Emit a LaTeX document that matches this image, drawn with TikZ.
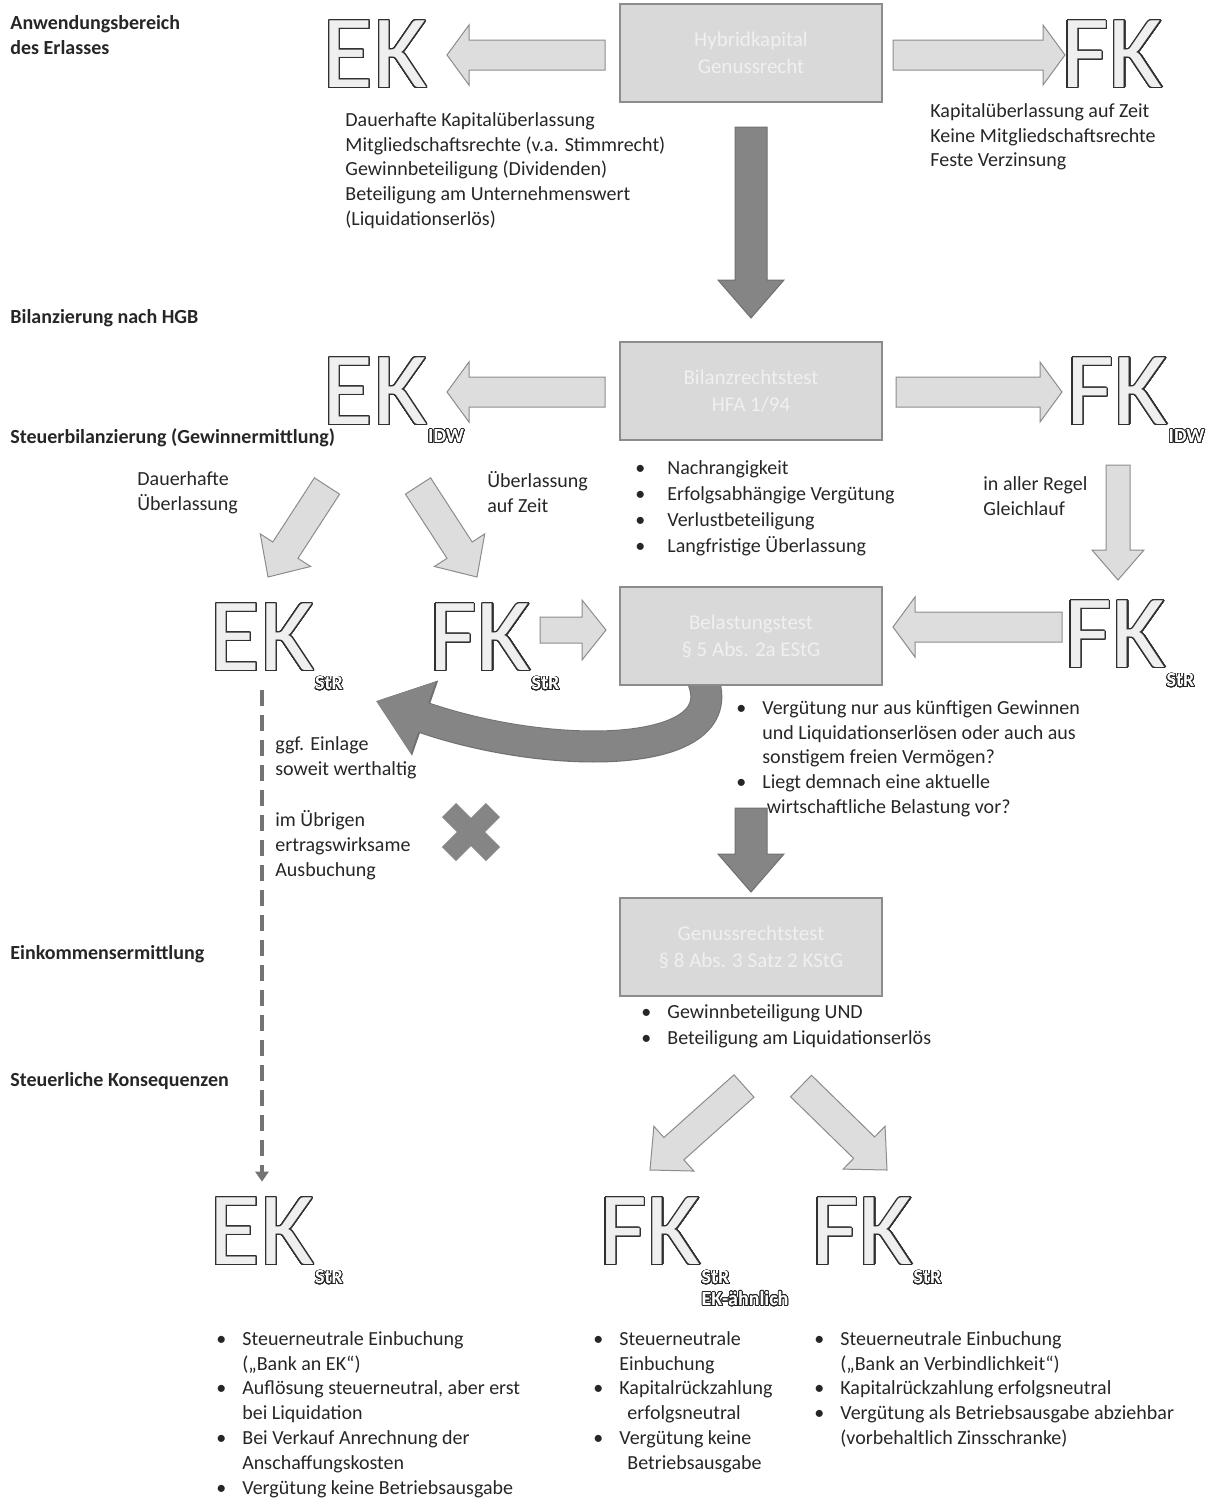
\documentclass[tikz,border=0pt]{standalone}
\usepackage{fontspec}
\setmainfont{Carlito}
\usepackage[copies]{contour}
\usetikzlibrary{calc,positioning,arrows.meta}

\definecolor{inkgray}{HTML}{262626}
\definecolor{boxfill}{HTML}{D9D9D9}
\definecolor{boxedge}{HTML}{8C8C8C}
\definecolor{lightfill}{HTML}{DDDDDD}
\definecolor{darkfill}{HTML}{858585}
\definecolor{darkedge}{HTML}{707070}
\definecolor{letterfill}{HTML}{EFEFEF}
\definecolor{letteredge}{HTML}{303030}

\contournumber{40}
\newcommand{\kap}[1]{{\contourlength{0.6pt}\color{letterfill}\contour{letteredge}{#1}}}
\newcommand{\kapsub}[1]{{\contourlength{0.4pt}\color{white}\contour{black!85}{#1}}}
\newcommand{\bul}[1][13pt]{\makebox[#1][l]{\textbullet}}
\newcommand{\cont}[1][13pt]{\hspace*{#1}}

\tikzset{
  shaftw/.store in=\shaftw, headw/.store in=\headw, headl/.store in=\headl,
  lightarrow/.style={draw=boxedge, fill=lightfill, line width=0.5pt, line join=miter,
    shaftw=7.5pt, headw=15pt, headl=11pt},
  darkarrow/.style={draw=darkedge, fill=darkfill, line width=0.5pt,
    shaftw=8pt, headw=16.5pt, headl=19pt},
}
% block arrow from #2 to #3
\newcommand{\blockarrow}[3][]{%
  \filldraw[lightarrow,#1]
    ($(#2)!\shaftw!90:(#3)$) --
    ($(#3)!\headl!(#2)!\shaftw!90:(#3)$) --
    ($(#3)!\headl!(#2)!\headw!90:(#3)$) --
    (#3) --
    ($(#3)!\headl!(#2)!\headw!-90:(#3)$) --
    ($(#3)!\headl!(#2)!\shaftw!-90:(#3)$) --
    ($(#2)!\shaftw!-90:(#3)$) -- cycle;}

\begin{document}
\begin{tikzpicture}[x=0.5pt, y=-0.5pt,
  kbox/.style={draw=boxedge, fill=boxfill, line width=0.6pt, minimum width=131pt,
    minimum height=49pt, inner sep=0pt, align=center, text=white!94!black,
    font=\fontsize{10.5}{13.5}\selectfont},
  letters/.style={inner sep=0pt, font=\fontsize{52}{56}\selectfont},
  subscr/.style={inner sep=0pt, font=\fontsize{10}{12}\selectfont\bfseries},
  firstline/.style={anchor=north west, yshift=9pt, inner sep=0pt, align=left,
    execute at begin node={\rule{0pt}{9pt}}},
  heading/.style={firstline, text=inkgray, font=\fontsize{10}{12.5}\selectfont\bfseries},
  note/.style={firstline, text=inkgray, font=\fontsize{10}{12.4}\selectfont},
  diag/.style={shaftw=7.5pt, headw=15pt, headl=16pt},
  darkcurve/.style={draw=darkfill, line width=15pt, -{Triangle[length=25pt,width=36pt]},
    preaction={draw=darkedge, line width=16pt, -{Triangle[length=26pt,width=38pt]}}},
  dashline/.style={draw=black!55, line width=2pt, dash pattern=on 8pt off 4.5pt,
    -{Triangle[length=5pt,width=6.5pt]}},
  xmark/.style={draw=darkfill, line width=10pt},
]
\useasboundingbox (0,0) rectangle (1213,1506);

% curved arrow back to EK (drawn first, the box covers its start)
\coordinate (loopin) at (692,660);
\coordinate (loopout) at (376,701);
\draw[darkcurve] (loopin) .. controls (762,760) and (560,765) .. (loopout);

% headings
\node[heading] (h1) at (10,33) {Anwendungsbereich\\des Erlasses};
\node[heading] (h2) at (10,323) {Bilanzierung nach HGB};
\node[heading] (h3) at (10,443) {Steuerbilanzierung (Gewinnermittlung)};
\node[heading] (h4) at (10,959) {Einkommensermittlung};
\node[heading] (h5) at (10,1086) {Steuerliche Konsequenzen};

% tests
\node[kbox] (hybrid) at (751,53) {Hybridkapital\\Genussrecht};
\node[kbox] (bilanz) at (751,391) {Bilanzrechtstest\\HFA 1/94};
\node[kbox] (belast) at (751,636) {Belastungstest\\§ 5 Abs. 2a EStG};
\node[kbox] (genuss) at (751,947) {Genussrechtstest\\§ 8 Abs. 3 Satz 2 KStG};

% EK / FK
\node[letters] (ek1) at (375,55) {\kap{EK}};
\node[letters] (fk1) at (1112,55) {\kap{FK}};
\node[letters] (ek2) at (375,392) {\kap{EK}};
\node[letters] (fk2) at (1117,392) {\kap{FK}};
\node[letters] (ek3) at (262,638) {\kap{EK}};
\node[letters] (fk3) at (480,638) {\kap{FK}};
\node[letters] (fk4) at (1115,635) {\kap{FK}};
\node[letters] (ek5) at (262,1232) {\kap{EK}};
\node[letters] (fk5) at (650,1232) {\kap{FK}};
\node[letters] (fk6) at (862,1232) {\kap{FK}};

\node[subscr, below right=1.5pt and 0pt of ek2.south east] (ek2sub) {\kapsub{IDW}};
\node[subscr, below right=1.5pt and 0pt of fk2.south east] (fk2sub) {\kapsub{IDW}};
\node[subscr, below right=2pt and 0pt of ek3.south east] (ek3sub) {\kapsub{StR}};
\node[subscr, below right=2pt and 0pt of fk3.south east] (fk3sub) {\kapsub{StR}};
\node[subscr, below right=2pt and 0pt of fk4.south east] (fk4sub) {\kapsub{StR}};
\node[subscr, below right=2pt and 0pt of ek5.south east] (ek5sub) {\kapsub{StR}};
\node[subscr, below right=2pt and 0pt of fk5.south east] (fk5sub) {\kapsub{StR}};
\node[subscr, below right=3pt and 0pt of fk5sub.south west] (fk5ek) {\kapsub{EK-ähnlich}};
\node[subscr, below right=2pt and 0pt of fk6.south east] (fk6sub) {\kapsub{StR}};

% texts
\node[note] (ektext) at (345,130) {Dauerhafte Kapitalüberlassung\\Mitgliedschaftsrechte (v.a. Stimmrecht)\\Gewinnbeteiligung (Dividenden)\\Beteiligung am Unternehmenswert\\(Liquidationserlös)};
\node[note] (fktext) at (930,121) {Kapitalüberlassung auf Zeit\\Keine Mitgliedschaftsrechte\\Feste Verzinsung};
\node[note, font=\fontsize{10}{13}\selectfont] (bilanzlist) at (635,478) {\bul[16pt]Nachrangigkeit\\\bul[16pt]Erfolgsabhängige Vergütung\\\bul[16pt]Verlustbeteiligung\\\bul[16pt]Langfristige Überlassung};
\node[note] (regel) at (983,494) {in aller Regel\\Gleichlauf};
\node[note] (dauer) at (137,489) {Dauerhafte\\Überlassung};
\node[note] (zeit) at (487,489) {Überlassung\\auf Zeit};
\node[note] (belastlist) at (736,718) {\bul Vergütung nur aus künftigen Gewinnen\\\cont und Liquidationserlösen oder auch aus\\\cont sonstigem freien Vermögen?\\\bul Liegt demnach eine aktuelle\\\cont[13pt] wirtschaftliche Belastung vor?};
\node[note] (einlage) at (275,754) {ggf. Einlage\\soweit werthaltig};
\node[note] (ausbuch) at (275,828) {im Übrigen\\ertragswirksame\\Ausbuchung};
\node[note, font=\fontsize{10}{13}\selectfont] (genusslist) at (641,1022) {\bul Gewinnbeteiligung UND\\\bul Beteiligung am Liquidationserlös};
\node[note] (eklist) at (216,1349) {\bul Steuerneutrale Einbuchung\\\cont(„Bank an EK“)\\\bul Auflösung steuerneutral, aber erst\\\cont bei Liquidation\\\bul Bei Verkauf Anrechnung der\\\cont Anschaffungskosten\\\bul Vergütung keine Betriebsausgabe};
\node[note] (fkeklist) at (593,1349) {\bul Steuerneutrale\\\cont Einbuchung\\\bul Kapitalrückzahlung\\\cont[17pt]erfolgsneutral\\\bul Vergütung keine\\\cont[17pt]Betriebsausgabe};
\node[note] (fklist) at (814,1349) {\bul Steuerneutrale Einbuchung\\\cont(„Bank an Verbindlichkeit“)\\\bul Kapitalrückzahlung erfolgsneutral\\\bul Vergütung als Betriebsausgabe abziehbar\\\cont(vorbehaltlich Zinsschranke)};

% arrow ends
\coordinate (a1s) at (605,55);   \coordinate (a1e) at (447,55);
\coordinate (a2s) at (893,55);   \coordinate (a2e) at (1065,55);
\coordinate (a3s) at (605,392);  \coordinate (a3e) at (447,392);
\coordinate (a4s) at (896,392);  \coordinate (a4e) at (1062,392);
\coordinate (a5s) at (1118,465); \coordinate (a5e) at (1118,580);
\coordinate (a6s) at (327,486);  \coordinate (a6e) at (268,577);
\coordinate (a7s) at (418,486);  \coordinate (a7e) at (477,577);
\coordinate (a8s) at (540,630);  \coordinate (a8e) at (606,630);
\coordinate (a9s) at (1062,627); \coordinate (a9e) at (893,627);
\coordinate (b1s) at (744,1086); \coordinate (b1e) at (650,1170);
\coordinate (b2s) at (801,1086); \coordinate (b2e) at (887,1170);
\coordinate (d1s) at (751,127);  \coordinate (d1e) at (751,318);
\coordinate (d2s) at (751,808);  \coordinate (d2e) at (751,892);

\blockarrow{a1s}{a1e}
\blockarrow{a2s}{a2e}
\blockarrow{a3s}{a3e}
\blockarrow{a4s}{a4e}
\blockarrow[shaftw=6pt, headw=13pt, headl=15pt]{a5s}{a5e}
\blockarrow[diag]{a6s}{a6e}
\blockarrow[diag]{a7s}{a7e}
\blockarrow[shaftw=6.5pt, headw=15pt, headl=12pt]{a8s}{a8e}
\blockarrow{a9s}{a9e}
\blockarrow[diag]{b1s}{b1e}
\blockarrow[diag]{b2s}{b2e}
\blockarrow[darkarrow]{d1s}{d1e}
\blockarrow[darkarrow]{d2s}{d2e}

% dashed way down to EK
\draw[dashline] ([yshift=-9pt]ek3.south) -- ([yshift=8pt]ek5.north);

% cross
\coordinate (xm) at (471,832);
\draw[xmark] (xm) ++(-22,-22) -- ++(44,44) (xm) ++(-22,22) -- ++(44,-44);
\end{tikzpicture}
\end{document}
